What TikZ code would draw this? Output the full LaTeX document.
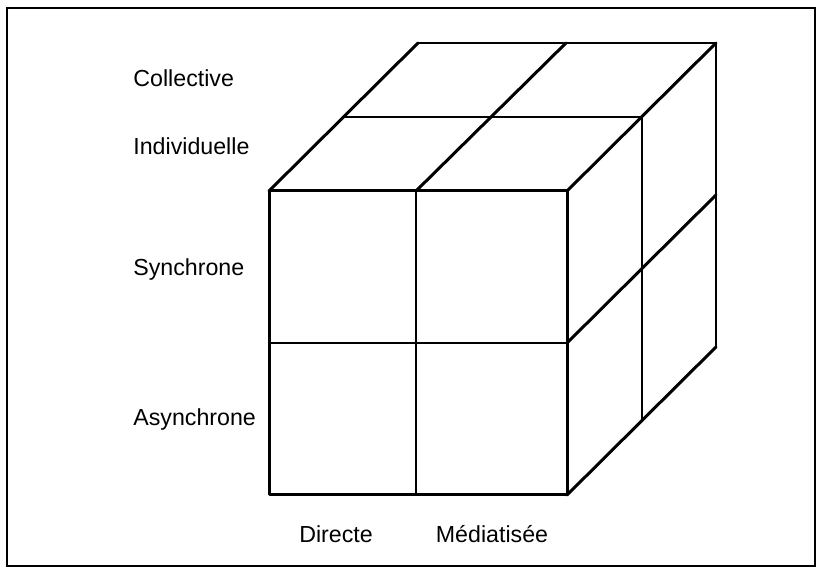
\documentclass[tikz,border=0pt]{standalone}
\usepackage{fontspec}
\setmainfont{Liberation Sans}
\tikzset{
  kante/.style={line width=1.5pt, line join=round, line cap=round},
  innen/.style={line width=1.1pt, line cap=round},
  beschriftung/.style={font=\fontsize{11.6}{14}\selectfont, inner sep=0pt}
}
\begin{document}
\begin{tikzpicture}[x=0.5pt, y=-0.5pt]
        \useasboundingbox (0,0) rectangle (821,571);
        % Rahmen
        \draw[line width=1pt] (7,8) rectangle (815,566);

        % Ecken des Wuerfels
        \coordinate (FA) at (269,191);
        \coordinate (FB) at (416,191);
        \coordinate (FC) at (567,191);
        \coordinate (FD) at (269,495);
        \coordinate (FE) at (416,495);
        \coordinate (FF) at (567,495);
        \coordinate (FL) at (269,343);
        \coordinate (FR) at (567,343);
        \coordinate (MA) at (343,117);
        \coordinate (MC) at (642,117);
        \coordinate (MF) at (642,421);
        \coordinate (BA) at (418,43);
        \coordinate (BB) at (566,43);
        \coordinate (BC) at (716,43);
        \coordinate (BR) at (716,195);
        \coordinate (BF) at (716,347);

        % Vorderseite
        \draw[kante] (FA) -- (FC) -- (FF) -- (FD) -- cycle;
        \draw[innen] (FB) -- (FE);
        \draw[innen] (FL) -- (FR);

        % Oberseite
        \draw[kante] (FA) -- (BA);
        \draw[kante] (FB) -- (BB);
        \draw[kante] (FC) -- (BC);
        \draw[innen] (BA) -- (BC);
        \draw[innen] (MA) -- (MC);

        % rechte Seite
        \draw[innen] (BC) -- (BF);
        \draw[innen] (MC) -- (MF);
        \draw[kante] (FR) -- (BR);
        \draw[kante] (FF) -- (BF);

        % Beschriftungen links
        \node[beschriftung, anchor=west] (coll) at (133,78) {Collective};
        \node[beschriftung, anchor=west] (indiv) at (133,146) {Individuelle};
        \node[beschriftung, anchor=west] (sync) at (133,270) {Synchrone};
        \node[beschriftung, anchor=west] (async) at (133,420) {Asynchrone};

        % Beschriftungen unten
        \node[beschriftung] (dir) at (336,534) {Directe};
        \node[beschriftung] (med) at (492,534) {Médiatisée};
    \end{tikzpicture}
\end{document}
